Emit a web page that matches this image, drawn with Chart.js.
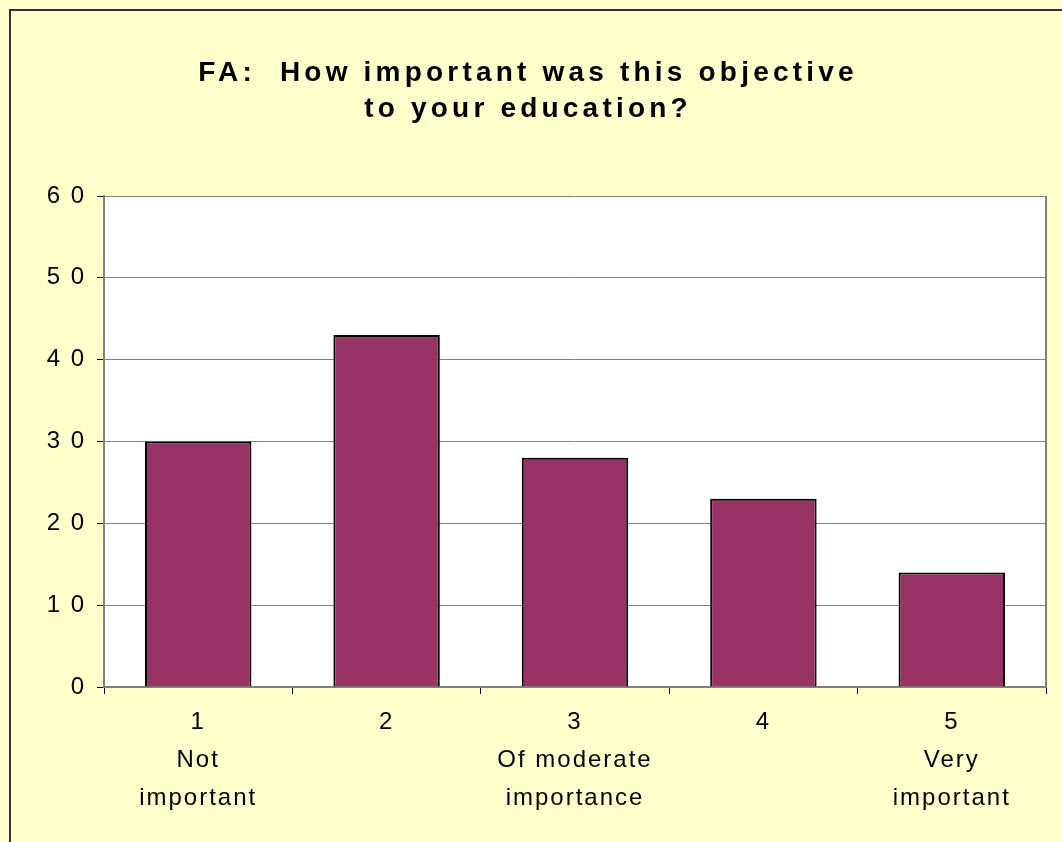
<!DOCTYPE html>
<html>
<head>
<meta charset="utf-8">
<script src="https://cdn.jsdelivr.net/npm/chart.js@4/dist/chart.umd.min.js"></script>
<style>
  html, body { margin: 0; padding: 0; background: #FFFFCC; }
  #frame { position: absolute; left: 9px; top: 9px; width: 1060px; height: 840px; border: 2px solid #333; border-right: none; border-bottom: none; background: #FFFFCC; }
  #chart { position: absolute; left: 0; top: 0; }
</style>
</head>
<body>
<div id="frame"></div>
<canvas id="chart" width="1062" height="842"></canvas>
<script>
const titleLines = ['FA:  How important was this objective', 'to your education?'];
const categories = [['1', 'Not', 'important'], ['2'], ['3', 'Of moderate', 'importance'], ['4'], ['5', 'Very', 'important']];
const counts = [30, 43, 28, 23, 14];
const yTicks = { min: 0, max: 60, step: 10 };

// white plot area with a grey right edge, and the wide letter spacing of the original
const plotFrame = {
  id: 'plotFrame',
  beforeDraw(chart) {
    const { ctx, chartArea: a } = chart;
    ctx.letterSpacing = '2px';
    ctx.save();
    ctx.fillStyle = '#fff';
    ctx.fillRect(a.left, a.top, a.right - a.left, a.bottom - a.top);
    ctx.restore();
  },
  afterDatasetsDraw(chart) {
    const { ctx, chartArea: a } = chart;
    ctx.save();
    ctx.strokeStyle = '#808080';
    ctx.lineWidth = 2;
    ctx.beginPath();
    ctx.moveTo(a.right, a.top);
    ctx.lineTo(a.right, a.bottom);
    ctx.stroke();
    ctx.restore();
  }
};

Chart.defaults.font.family = '"Liberation Sans", Arial, sans-serif';
Chart.defaults.color = '#000';

const chart = new Chart(document.getElementById('chart'), {
  type: 'bar',
  data: {
    labels: categories,
    datasets: [{
      data: counts,
      backgroundColor: '#993366',
      borderColor: '#000',
      borderWidth: 2,
      barPercentage: 0.565,
      categoryPercentage: 1
    }]
  },
  options: {
    responsive: false,
    animation: false,
    layout: { padding: { left: 10, right: 16, top: 0, bottom: 0 } },
    plugins: {
      legend: { display: false },
      tooltip: { enabled: false },
      title: {
        display: true,
        text: titleLines,
        font: { size: 28, weight: 'bold', lineHeight: 36 / 28 },
        padding: { top: 55, bottom: 69 }
      }
    },
    scales: {
      x: {
        afterFit(scale) { scale.height = 155; },
        grid: { offset: true, drawOnChartArea: false, drawTicks: true, tickLength: 7, color: '#000', lineWidth: 1 },
        border: { color: '#808080', width: 2 },
        ticks: { font: { size: 24, lineHeight: 38 / 24 }, padding: 9, maxRotation: 0, autoSkip: false }
      },
      y: {
        min: yTicks.min,
        max: yTicks.max,
        afterFit(scale) { scale.width = 94; },
        grid: { color: '#808080', lineWidth: 1, tickLength: 7, tickColor: '#000' },
        border: { color: '#808080', width: 2 },
        ticks: {
          stepSize: yTicks.step,
          font: { size: 24 },
          padding: 11,
          callback: v => String(v).split('').join(' ')
        }
      }
    }
  },
  plugins: [plotFrame]
});

// title gets a wider spacing than the tick labels
const drawTitle = chart.titleBlock.draw;
chart.titleBlock.draw = function () {
  chart.ctx.letterSpacing = '4.2px';
  drawTitle.call(this);
  chart.ctx.letterSpacing = '2px';
};
chart.draw();
</script>
</body>
</html>
